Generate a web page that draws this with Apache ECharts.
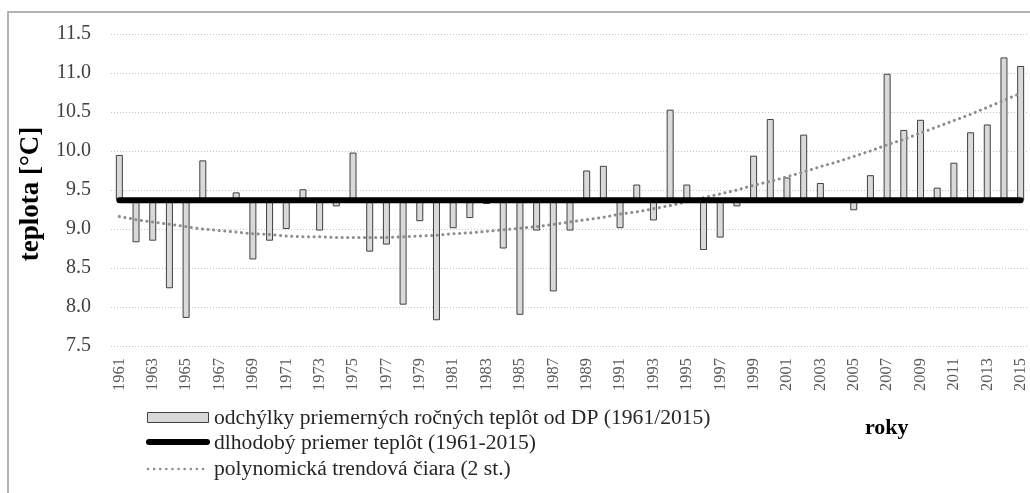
<!DOCTYPE html>
<html>
<head>
<meta charset="utf-8">
<script src="https://cdn.jsdelivr.net/npm/echarts@6/dist/echarts.min.js"></script>
<style>
html,body{margin:0;padding:0;background:#fff;}
#c{width:1030px;height:493px;}
</style>
</head>
<body>
<div id="c"></div>
<script>
// ---- data ----
const years = [];
for (let y = 1961; y <= 2015; y++) years.push(String(y));

const annualTemp = [
  9.95, 8.83, 8.85, 8.24, 7.86, 9.88, 9.36, 9.47, 8.61, 8.85,
  9.00, 9.51, 8.98, 9.29, 9.98, 8.71, 8.80, 8.03, 9.10, 7.83,
  9.01, 9.14, 9.32, 8.75, 7.90, 8.98, 8.20, 8.98, 9.75, 9.81,
  9.01, 9.57, 9.11, 10.53, 9.57, 8.73, 8.89, 9.29, 9.94, 10.41,
  9.66, 10.21, 9.59, 9.36, 9.24, 9.69, 10.99, 10.27, 10.40, 9.53,
  9.85, 10.24, 10.34, 11.20, 11.09
];

const MEAN = 9.37;

const trend = [
  9.16, 9.12, 9.09, 9.06, 9.03, 9.00, 8.98, 8.96, 8.94, 8.93,
  8.91, 8.90, 8.90, 8.89, 8.89, 8.89, 8.89, 8.90, 8.91, 8.92,
  8.94, 8.95, 8.97, 8.99, 9.01, 9.03, 9.06, 9.09, 9.12, 9.15,
  9.19, 9.22, 9.26, 9.30, 9.35, 9.40, 9.45, 9.50, 9.56, 9.61,
  9.67, 9.73, 9.80, 9.86, 9.93, 10.00, 10.08, 10.15, 10.23, 10.31,
  10.39, 10.47, 10.56, 10.65, 10.74
];

const legendLabels = [
  'odchýlky priemerných ročných teplôt od DP (1961/2015)',
  'dlhodobý priemer teplôt (1961-2015)',
  'polynomická trendová čiara (2 st.)'
];
const yTitle = 'teplota [°C]';
const xTitle = 'roky';

// ---- derived ----
const barBase = annualTemp.map(v => Math.min(v, MEAN));
const barSize = annualTemp.map(v => Math.abs(v - MEAN));
const meanLine = years.map(() => MEAN);

const FONT = '"Liberation Serif", "Times New Roman", serif';
const chart = echarts.init(document.getElementById('c'), null, {renderer: 'canvas'});

chart.setOption({
  animation: false,
  backgroundColor: '#ffffff',
  grid: {left: 111, right: 1, top: 34, bottom: 147, containLabel: false},
  xAxis: {
    type: 'category',
    data: years,
    axisLine: {show: false},
    axisTick: {show: false},
    axisLabel: {
      interval: 1, rotate: 90, margin: 12,
      fontFamily: FONT, fontSize: 16.5, color: '#595959'
    },
    splitLine: {show: false}
  },
  yAxis: {
    type: 'value',
    min: 7.5, max: 11.5, interval: 0.5,
    axisLine: {show: false},
    axisTick: {show: false},
    axisLabel: {
      margin: 20, fontFamily: FONT, fontSize: 20, color: '#404040',
      formatter: v => v.toFixed(1)
    },
    splitLine: {lineStyle: {color: '#c4c4c4', width: 1, type: [1, 2]}}
  },
  series: [
    {
      type: 'bar', stack: 'dev', data: barBase, barWidth: 7,
      itemStyle: {color: 'rgba(0,0,0,0)'}, silent: true, z: 2
    },
    {
      type: 'bar', stack: 'dev', data: barSize, barWidth: 7,
      itemStyle: {color: '#d9d9d9', borderColor: '#404040', borderWidth: 1},
      silent: true, z: 2
    },
    {
      type: 'line', data: trend, symbol: 'none', smooth: false,
      lineStyle: {color: '#8c8c8c', width: 3, type: [0.1, 5.5], cap: 'round'},
      silent: true, z: 3
    },
    {
      type: 'line', data: meanLine, symbol: 'none',
      lineStyle: {color: '#000000', width: 6, cap: 'round'},
      silent: true, z: 4
    }
  ],
  graphic: [
    // outer frame
    {type: 'polyline', shape: {points: [[8, 500], [8, 12], [1040, 12]]},
     style: {stroke: '#b3b3b3', lineWidth: 2, fill: null}, silent: true},
    // y title
    {type: 'text', x: 31, y: 194, rotation: Math.PI / 2,
     style: {text: yTitle, font: 'bold 27px ' + FONT, fill: '#000', align: 'center', verticalAlign: 'middle'}},
    // x title
    {type: 'text', x: 865, y: 428,
     style: {text: xTitle, font: 'bold 22px ' + FONT, fill: '#000', align: 'left', verticalAlign: 'middle'}},
    // legend
    {type: 'rect', shape: {x: 147.5, y: 412.5, width: 61, height: 10},
     style: {fill: '#d9d9d9', stroke: '#404040', lineWidth: 1}},
    {type: 'text', x: 214, y: 418,
     style: {text: legendLabels[0], font: '21.6px ' + FONT, fill: '#262626', align: 'left', verticalAlign: 'middle'}},
    {type: 'line', shape: {x1: 149, y1: 442, x2: 207, y2: 442},
     style: {stroke: '#000', lineWidth: 6, lineCap: 'round'}},
    {type: 'text', x: 214, y: 443,
     style: {text: legendLabels[1], font: '21.6px ' + FONT, fill: '#262626', align: 'left', verticalAlign: 'middle'}},
    {type: 'line', shape: {x1: 148, y1: 469, x2: 204, y2: 469},
     style: {stroke: '#8c8c8c', lineWidth: 2.5, lineDash: [0.1, 6], lineCap: 'round'}},
    {type: 'text', x: 214, y: 469,
     style: {text: legendLabels[2], font: '21.6px ' + FONT, fill: '#262626', align: 'left', verticalAlign: 'middle'}}
  ]
});
</script>
</body>
</html>
